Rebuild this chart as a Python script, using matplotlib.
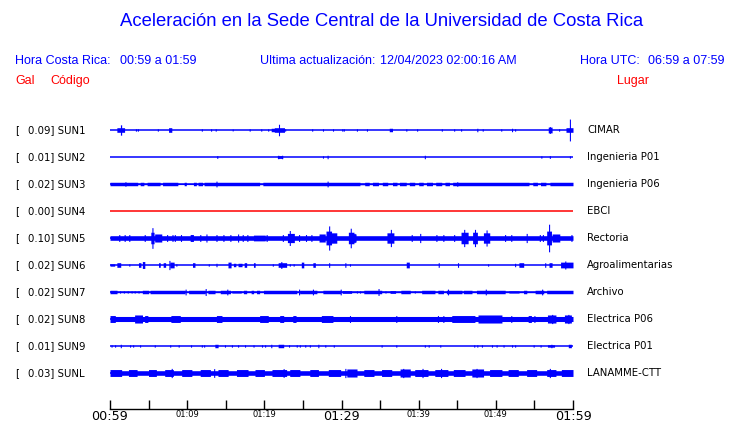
import numpy as np
import matplotlib
matplotlib.use("Agg")
import matplotlib.pyplot as plt

# ---------------- data ----------------
codes = ["SUN1", "SUN2", "SUN3", "SUN4", "SUN5", "SUN6", "SUN7", "SUN8", "SUN9", "SUNL"]
places = ["CIMAR", "Ingenieria P01", "Ingenieria P06", "EBCI", "Rectoria",
          "Agroalimentarias", "Archivo", "Electrica P06", "Electrica P01", "LANAMME-CTT"]
peak_gal = [0.09, 0.01, 0.02, 0.00, 0.10, 0.02, 0.02, 0.02, 0.01, 0.03]
trace_colors = ["blue", "blue", "blue", "red", "blue", "blue", "blue", "blue", "blue", "blue"]

# minutes after 00:59 (0..60); envelope half-amplitudes in relative units
base_level = [0, 0, 1.5, 0, 2.0, 0, 0.6, 2.2, 0, 2.0]

quiet_segments = {
    "SUN3": [(3.6, 3.9, 0.6), (4.4, 4.8, 0.6), (6.5, 6.8, 0.6), (8.8, 9.6, 0.5), (9.9, 10.8, 0.5),
             (11.2, 11.4, 0.6), (12.0, 12.2, 0.6), (19.4, 19.8, 0.6), (32.4, 33.0, 0.7), (33.6, 34.0, 0.6),
             (34.8, 35.3, 0.6), (36.0, 36.6, 0.6), (37.2, 37.5, 0.6), (38.4, 38.8, 0.6), (39.5, 40.0, 0.6),
             (40.6, 41.0, 0.6), (41.8, 42.2, 0.6), (43.0, 43.4, 0.6), (44.0, 44.4, 0.6), (54.3, 54.8, 0.6),
             (55.4, 55.8, 0.6), (56.5, 57.0, 0.6)],
}

blocks = {
    "SUN1": [(0.9, 1.9, 2), (7.6, 8.0, 2), (20.9, 21.3, 1.5), (21.3, 22.6, 2), (36.2, 36.6, 1.5),
             (56.8, 57.3, 2.5), (59.1, 60, 2)],
    "SUN2": [(21.7, 22.4, 1.2)],
    "SUN5": [(5.3, 5.7, 5), (5.8, 6.7, 3.5), (10.4, 10.8, 3), (18.6, 20.1, 2.5), (23.0, 23.9, 4),
             (27.1, 27.9, 3.5), (28.0, 28.7, 6), (28.7, 29.4, 4.5), (30.9, 31.6, 5), (31.6, 31.9, 3.5),
             (35.9, 36.8, 4.5), (45.5, 46.4, 5), (47.0, 47.6, 5), (48.4, 49.2, 4.5), (56.6, 57.2, 6),
             (57.3, 58.3, 3.5)],
    "SUN6": [(0, 0.6, 1), (0.9, 1.4, 2), (3.7, 4.0, 2), (4.2, 4.5, 3), (6.3, 6.5, 2), (6.9, 7.2, 2),
             (7.8, 8.3, 2.5), (10.7, 11.0, 2), (15.3, 15.7, 2.5), (16.0, 16.3, 1.5), (16.6, 17.1, 1.5),
             (17.4, 17.7, 2), (18.6, 18.8, 2), (21.8, 22.9, 2), (24.8, 25.1, 2.5), (26.3, 26.6, 2),
             (38.4, 38.8, 2.5), (53.0, 53.6, 2), (56.9, 57.3, 2), (58.4, 60, 2.5)],
    "SUN7": [(0, 0.9, 1.5), (4.2, 5.0, 1.5), (5.2, 9.7, 1.5), (10.2, 12.3, 1.5), (12.7, 13.6, 1.5),
             (14.3, 15.6, 1.5), (15.8, 17.0, 1.0), (17.3, 17.7, 1.5), (18.3, 18.6, 1.5), (19.0, 19.4, 1.5),
             (19.9, 24.2, 1.5), (24.6, 26.8, 1.5), (27.6, 29.9, 1.5), (30.1, 31.3, 1.2), (32.9, 35.2, 1.5),
             (36.3, 37.0, 1.2), (37.7, 38.9, 1.5), (40.4, 42.1, 1.5), (42.5, 43.2, 1.5), (43.6, 45.6, 1.5),
             (45.8, 46.9, 1.5), (47.5, 51.2, 1.5), (51.7, 53.0, 1.0), (53.6, 54.0, 1.5), (55.1, 56.2, 1.5),
             (56.6, 60, 1.5)],
    "SUN8": [(0, 0.7, 3), (3.2, 4.2, 3.5), (4.5, 4.9, 3), (7.9, 9.1, 3), (13.8, 14.5, 3), (19.4, 20.5, 3),
             (22.0, 22.5, 3), (23.7, 24.1, 3), (27.4, 28.9, 3), (44.3, 47.3, 3), (47.7, 50.8, 3.5),
             (54.2, 54.6, 3), (56.7, 57.8, 3.5), (58.9, 59.8, 3.5)],
    "SUN9": [(13.6, 14.0, 1.5), (21.8, 22.5, 1.5), (56.7, 57.6, 1.0), (59.4, 59.8, 1.5)],
    "SUNL": [(0, 1.5, 3), (2.4, 3.5, 3), (5.0, 6.0, 3), (7.1, 8.2, 3), (9.3, 10.6, 3), (11.7, 13.0, 3),
             (14.0, 15.3, 3), (16.4, 17.9, 3), (18.8, 20.0, 3), (21.0, 22.9, 3), (23.3, 24.6, 3),
             (25.9, 27.0, 3), (28.3, 29.9, 3), (30.7, 32.0, 3.5), (32.9, 34.2, 3), (35.2, 36.5, 3),
             (37.6, 38.9, 3.5), (39.5, 41.2, 3), (42.1, 43.8, 3), (44.5, 46.0, 3), (46.9, 48.4, 3.5),
             (49.2, 50.8, 3), (51.6, 52.9, 3), (54.0, 55.3, 3), (56.6, 57.8, 3), (58.5, 60, 3)],
}

spikes = {
    "SUN1": [(1.43, 4.5), (3.37, 1), (3.63, 1), (6.2, 1), (11.9, 1), (13.1, 1), (13.7, 1), (15.9, 0.8),
             (18.1, 1), (19.6, 1), (20.5, 1), (21.9, 5), (22.7, 1), (26.2, 1), (27.6, 1), (28.9, 1),
             (30.1, 1), (30.3, 1), (32.0, 1), (33.3, 1), (38.4, 1), (39.8, 1), (43.0, 1), (44.6, 1),
             (45.5, 1), (47.6, 1.5), (48.3, 1), (50.7, 1), (52.1, 1.5), (52.5, 1), (57.0, 3), (58.2, 1),
             (59.6, 9.5)],
    "SUN2": [(13.9, 1.2), (21.8, 1.5), (22.3, 1.5), (27.6, 1), (28.2, 1.5), (40.8, 1.5), (55.9, 1),
             (57.0, 1.2), (59.6, 1)],
    "SUN3": [(2.0, 2), (13.8, 2.5), (28.2, 2.5), (45.0, 2)],
    "SUN5": [(1.2, 3), (1.9, 3), (2.5, 3), (4.5, 3), (5.5, 9), (7.4, 3), (8.1, 3), (8.4, 3), (9.2, 3),
             (11.7, 3), (12.5, 3.5), (13.8, 3), (14.7, 3), (15.6, 3), (16.6, 3.5), (17.2, 3), (17.8, 3),
             (20.3, 3), (22.4, 3), (23.3, 6.5), (24.5, 3), (25.4, 3), (26.1, 3), (28.4, 10.5), (31.2, 8.5),
             (31.7, 4), (36.4, 7.5), (39.1, 3), (40.2, 4), (42.3, 3), (43.2, 3), (44.6, 3), (45.9, 7.5),
             (47.3, 7.5), (48.8, 7), (51.2, 3), (52.0, 3), (54.0, 4), (55.7, 3), (56.1, 3), (56.9, 12),
             (59.8, 3)],
    "SUN6": [(2.5, 1), (7.7, 4), (8.6, 1), (12.8, 1), (13.8, 1.5), (21.1, 1), (22.2, 3), (23.3, 1),
             (23.8, 1), (28.4, 2), (30.5, 2), (31.1, 1), (42.6, 2), (45.1, 2), (49.0, 1), (52.5, 1.5),
             (56.4, 2), (59.0, 3.5)],
    "SUN7": [(1.3, 1), (1.8, 1), (2.3, 1), (2.8, 1), (3.2, 1), (3.7, 1), (9.8, 2.5), (12.4, 3),
             (15.2, 2.5), (24.5, 2.5), (26.3, 2.5), (29.9, 2.5), (32.0, 1), (32.4, 1), (34.8, 3),
             (35.7, 1), (39.5, 1), (43.8, 2.5), (48.7, 2.5), (56.0, 2.5)],
    "SUN8": [(20.0, 3), (31.1, 3), (37.1, 3), (42.5, 3), (43.2, 3), (52.0, 3), (55.0, 3), (57.3, 4),
             (59.4, 4)],
    "SUN9": [(0.2, 1), (0.65, 1), (1.4, 1.5), (2.6, 1), (3.0, 1), (3.9, 1), (5.8, 1), (7.8, 1), (8.9, 1),
             (10.5, 1), (11.9, 1), (12.2, 1), (14.9, 1), (15.8, 1), (16.6, 1), (17.5, 1), (18.6, 1),
             (19.7, 1), (20.1, 1), (20.9, 1.5), (23.2, 1), (24.2, 1), (24.6, 1), (25.3, 1), (25.9, 1),
             (27.0, 1.5), (27.9, 1), (29.0, 1), (35.2, 1), (37.1, 1), (40.8, 1), (41.3, 1), (42.8, 1),
             (47.2, 1), (47.6, 1), (48.2, 1), (49.5, 1), (50.1, 1), (51.0, 1), (52.1, 1), (52.5, 1),
             (54.9, 1), (55.8, 1), (57.2, 1.5)],
    "SUNL": [(8.0, 4), (13.5, 3.8), (22.5, 3.8), (30.5, 4), (38.0, 4), (40.5, 4), (42.9, 4), (47.5, 4),
             (57.0, 4)],
}

tick_minutes = list(range(0, 61, 5))
tick_labels = ["00:59", "", "01:09", "", "01:19", "", "01:29", "", "01:39", "", "01:49", "", "01:59"]
big_labels = ["00:59", "01:29", "01:59"]

title = "Aceleración en la Sede Central de la Universidad de Costa Rica"

# ---------------- layout ----------------
W, H = 740, 423
fig = plt.figure(figsize=(W / 100, H / 100), dpi=100)
fig.patch.set_facecolor("white")

def fx(px):
    return px / W

def fy(py):
    return 1 - py / H

SANS = "Liberation Sans"
DV = "DejaVu Sans"

x0, x1 = 110, 573
ytop, ybot = 105, 398
ax = fig.add_axes([fx(x0), fy(ybot), (x1 - x0) / W, (ybot - ytop) / H])
ax.set_xlim(0, 60)
ax.set_ylim(ybot, ytop)
ax.axis("off")

gain = 1.15
t = np.linspace(0, 60, 3001)
row0, row_step = 130, 27
for i, code in enumerate(codes):
    yc = row0 + row_step * i
    env = np.full_like(t, float(base_level[i]))
    for (a, b, lev) in quiet_segments.get(code, []):
        env[(t >= a) & (t <= b)] = lev
    for (a, b, lev) in blocks.get(code, []):
        m = (t >= a) & (t <= b)
        env[m] = np.maximum(env[m], lev)
    for (c, lev) in spikes.get(code, []):
        m = (t >= c - 0.07) & (t <= c + 0.07)
        env[m] = np.maximum(env[m], lev)
    env = env * gain
    col = trace_colors[i]
    ax.fill_between(t, yc - env, yc + env, color=col, linewidth=0, step="mid")
    ax.plot([0, 60], [yc, yc], color=col, lw=1.1, solid_capstyle="butt")

    ty = fy(yc)
    fig.text(fx(15), ty, "[", family=DV, fontsize=7.3, va="center", ha="left")
    fig.text(fx(27.5), ty, f"{peak_gal[i]:.2f}] {code}", family=DV, fontsize=7.3,
             va="center", ha="left")
    fig.text(fx(587), ty, places[i], family=DV, fontsize=7.3, va="center", ha="left")

# time axis
tax = fig.add_axes([fx(x0), fy(409), (x1 - x0) / W, 9 / H])
tax.set_xlim(0, 60)
tax.set_ylim(0, 1)
for s in ["top", "left", "right"]:
    tax.spines[s].set_visible(False)
tax.spines["bottom"].set_linewidth(1.0)
tax.set_yticks([])
tax.set_xticks(tick_minutes)
tax.set_xticklabels(tick_labels, family=DV)
tax.tick_params(axis="x", direction="in", length=6.5, width=1.0, pad=0.6)
for lab in tax.get_xticklabels():
    lab.set_fontsize(9.2 if lab.get_text() in big_labels else 6)
tax.patch.set_alpha(0)

# header texts
blue = "#0000ff"
red = "#ff0000"
fig.text(fx(382), fy(22), title, family=SANS, fontsize=13.3, color=blue, ha="center", va="center")
fig.text(fx(15), fy(61), "Hora Costa Rica:", family=SANS, fontsize=9, color=blue, va="center")
fig.text(fx(120), fy(61), "00:59 a 01:59", family=SANS, fontsize=9, color=blue, va="center")
fig.text(fx(260), fy(61), "Ultima actualización:", family=SANS, fontsize=9, color=blue, va="center")
fig.text(fx(380), fy(61), "12/04/2023 02:00:16 AM", family=SANS, fontsize=9, color=blue, va="center")
fig.text(fx(580), fy(61), "Hora UTC:", family=SANS, fontsize=9, color=blue, va="center")
fig.text(fx(725), fy(61), "06:59 a 07:59", family=SANS, fontsize=9, color=blue, va="center", ha="right")
fig.text(fx(15), fy(81), "Gal", family=SANS, fontsize=9, color=red, va="center")
fig.text(fx(50), fy(81), "Código", family=SANS, fontsize=9, color=red, va="center")
fig.text(fx(649), fy(81), "Lugar", family=SANS, fontsize=9, color=red, va="center", ha="right")

fig.savefig("out.png", dpi=100, facecolor="white")
